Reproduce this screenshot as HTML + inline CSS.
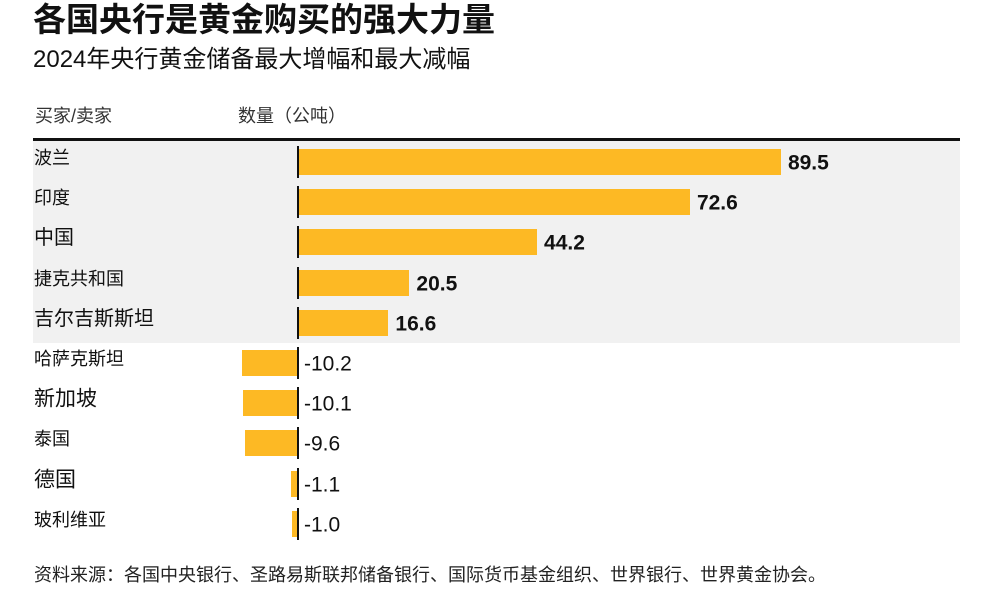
<!DOCTYPE html>
<html><head><meta charset="utf-8"><style>
body{margin:0;width:990px;height:603px;background:#fff;position:relative;overflow:hidden;font-family:"Liberation Sans","Noto Sans CJK SC",sans-serif;color:#111}
.a{position:absolute;white-space:nowrap;line-height:1}
.bar{position:absolute;background:#FDB924;height:26px}
.ax{position:absolute;left:297px;width:2px;background:#111;height:32px}
.lab{position:absolute;left:34px;line-height:1;white-space:nowrap;transform:translateY(-50%)}
.v{position:absolute;line-height:1;transform:translateY(-50%)}
</style></head><body>
<div class="a" style="left:33px;top:3px;font-size:33px;font-weight:bold">各国央行是黄金购买的强大力量</div>
<div class="a" style="left:33px;top:48px;font-size:24px">2024年央行黄金储备最大增幅和最大减幅</div>
<div class="a" style="left:35px;top:107px;font-size:18px;color:#333">买家/卖家</div>
<div class="a" style="left:238px;top:107px;font-size:18px;color:#333">数量（公吨）</div>
<div class="a" style="left:33px;top:138px;width:927px;height:3px;background:#111"></div>
<div class="a" style="left:33px;top:141px;width:927px;height:202px;background:#f1f1f1"></div>
<div id="rows"></div>
<div class="a" style="left:34px;top:566px;font-size:18px;color:#222">资料来源：各国中央银行、圣路易斯联邦储备银行、国际货币基金组织、世界银行、世界黄金协会。</div>
<script>
var d=[["波兰",89.5,18],["印度",72.6,18],["中国",44.2,20],["捷克共和国",20.5,18],["吉尔吉斯斯坦",16.6,20],["哈萨克斯坦",-10.2,18],["新加坡",-10.1,21],["泰国",-9.6,18],["德国",-1.1,21],["玻利维亚",-1.0,18]];
var h="",s=5.385,x0=298;
d.forEach(function(r,i){var c=162+i*40.2;var w=Math.abs(r[1])*s;
h+='<div class="lab" style="top:'+(c-4)+'px;font-size:'+r[2]+'px">'+r[0]+'</div>';
h+='<div class="ax" style="top:'+(c-16)+'px"></div>';
if(r[1]>0){h+='<div class="bar" style="left:'+(x0+1)+'px;width:'+w+'px;top:'+(c-13)+'px"></div>';
h+='<div class="v" style="left:'+(x0+w+8)+'px;top:'+(c+1)+'px;font-weight:bold;font-size:21px">'+r[1].toFixed(1)+'</div>';}
else{h+='<div class="bar" style="left:'+(x0-w-1)+'px;width:'+w+'px;top:'+(c-13)+'px"></div>';
h+='<div class="v" style="left:'+(x0+6)+'px;top:'+(c+1)+'px;font-size:21px">'+r[1].toFixed(1)+'</div>';}
});
document.getElementById("rows").innerHTML=h;
</script>
</body></html>
